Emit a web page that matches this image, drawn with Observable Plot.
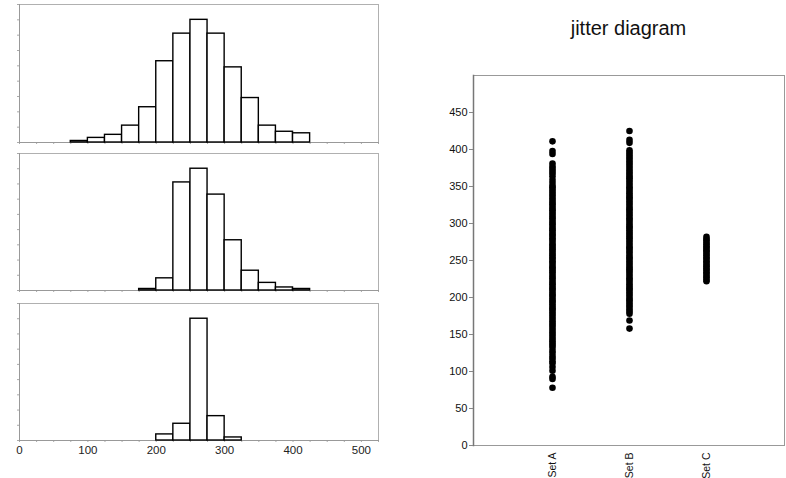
<!DOCTYPE html>
<html><head><meta charset="utf-8">
<script src="https://cdn.jsdelivr.net/npm/d3@7"></script>
<script src="https://cdn.jsdelivr.net/npm/@observablehq/plot@0.6"></script>
<style>
body{margin:0;background:#fff;width:786px;height:478px;position:relative;overflow:hidden;font-family:"Liberation Sans",Arial,sans-serif}
.p{position:absolute}
#title{position:absolute;z-index:5;left:473px;width:311px;top:16px;text-align:center;font-size:20px;line-height:24px;color:#111}
</style></head><body>
<div id="h1" class="p" style="left:0;top:0"></div>
<div id="h2" class="p" style="left:0;top:149px"></div>
<div id="h3" class="p" style="left:0;top:299px"></div>
<div id="jit" class="p" style="left:430px;top:0"></div>
<div id="title">jitter diagram</div>
<script>
// Histogram bins (lower edges), width 25
const binStarts = [75, 100, 125, 150, 175, 200, 225, 250, 275, 300, 325, 350, 375, 400];
const binWidth = 25;
const histTop = [1, 3, 5, 11, 23, 53, 71, 80, 71, 49, 29, 11, 7, 6];
const histMid = [0, 0, 0, 0, 1, 8, 71, 80, 63, 33, 13, 5, 2, 1];
const histBot = [0, 0, 0, 0, 0, 4, 11, 80, 16, 2, 0, 0, 0, 0];
const histYTicks = [0, 10, 20, 30, 40, 50, 60, 70, 80, 90];
const histXMinor = [0, 25, 50, 75, 100, 125, 150, 175, 200, 225, 250, 275, 300, 325, 350, 375, 400, 425, 450, 475, 500, 525];
const histXLabels = [0, 100, 200, 300, 400, 500];

// Jitter diagram data
const setNames = ["Set A", "Set B", "Set C"];
const setA = [411, 398, 394, 381, 377, 374, 371, 368, 364, 359, 355, 351, 349, 346, 343, 340, 337, 334, 331, 328, 326, 323, 320, 318, 315, 312, 309, 307, 304, 301, 299, 296, 293, 291, 288, 285, 283, 280, 278, 275, 272, 270, 267, 265, 262, 259, 257, 254, 252, 249, 247, 244, 241, 239, 236, 234, 231, 228, 226, 223, 220, 218, 215, 212, 210, 207, 204, 202, 199, 196, 194, 191, 188, 185, 183, 180, 177, 174, 171, 168, 165, 162, 159, 156, 153, 150, 147, 144, 141, 138, 135, 132, 128, 125, 121, 118, 114, 111, 106, 101, 93, 90, 78];
const setB = [425, 413, 409, 399, 396, 393, 390, 387, 384, 381, 378, 375, 372, 369, 366, 363, 361, 358, 355, 352, 349, 347, 344, 341, 338, 335, 333, 330, 327, 324, 321, 319, 316, 313, 310, 307, 305, 302, 299, 296, 294, 291, 288, 285, 282, 280, 277, 274, 271, 268, 266, 263, 260, 257, 254, 252, 249, 246, 243, 240, 238, 235, 232, 229, 226, 224, 221, 218, 215, 212, 210, 207, 204, 201, 198, 196, 193, 190, 187, 184, 181, 178, 169, 158];
const setC = [282, 279, 277, 274, 272, 269, 267, 264, 262, 259, 257, 254, 252, 249, 247, 244, 242, 239, 237, 234, 232, 229, 227, 224, 222];
const jitYTicks = [0, 50, 100, 150, 200, 250, 300, 350, 400, 450];

const font = {fontFamily: "'Liberation Sans', Arial, sans-serif", fontSize: "11px", background: "white", color: "#111"};

function hist(vals, height, mb, labels) {
  const data = binStarts.map((b, i) => ({x1: b, x2: b + binWidth, y: vals[i]})).filter(d => d.y > 0);
  return Plot.plot({
    width: 390, height, marginLeft: 19, marginRight: 12, marginTop: 4, marginBottom: mb,
    style: {...font, fontSize: "11.5px"},
    x: {domain: [0, 525], label: null},
    y: {domain: [0, 90], label: null},
    marks: [
      Plot.frame({stroke: "#b0b0b0"}),
      Plot.axisY({ticks: histYTicks, tickSize: 2, tickFormat: () => "", color: "#aaa"}),
      Plot.axisX({ticks: histXMinor, tickSize: 2, tickFormat: () => "", color: "#aaa"}),
      labels ? Plot.axisX({ticks: histXLabels, tickSize: 0, tickPadding: 5, fill: "#222", color: "#222"}) : null,
      Plot.frame({anchor: "left", stroke: "#999"}),
      Plot.frame({anchor: "bottom", stroke: "#999"}),
      Plot.rect(data, {x1: "x1", x2: "x2", y1: 0, y2: "y", fill: "white", stroke: "black", strokeWidth: 1.4})
    ]
  });
}

document.getElementById("h1").append(hist(histTop, 150, 8, false));
document.getElementById("h2").append(hist(histMid, 149, 8, false));
document.getElementById("h3").append(hist(histBot, 162, 21, true));

const points = [
  ...setA.map(v => ({set: setNames[0], value: v})),
  ...setB.map(v => ({set: setNames[1], value: v})),
  ...setC.map(v => ({set: setNames[2], value: v}))
];

document.getElementById("jit").append(Plot.plot({
  width: 356, height: 478, marginLeft: 43, marginRight: 2, marginTop: 75, marginBottom: 33,
  style: font,
  x: {type: "point", domain: setNames, padding: 1, label: null},
  y: {domain: [0, 500], label: null},
  marks: [
    Plot.frame({stroke: "#999"}),
    Plot.frame({anchor: "left", stroke: "#777", strokeWidth: 1.5}),
    Plot.axisY({ticks: jitYTicks, tickSize: 4, tickFormat: () => "", color: "#888"}),
    Plot.axisY({ticks: jitYTicks, tickSize: 0, tickPadding: 6, color: "#111"}),
    Plot.axisX({tickSize: 0, tickRotate: -90, tickPadding: 7, color: "#111", fontSize: "10.5px"}),
    Plot.dot(points, {x: "set", y: "value", r: 3.3, fill: "black", stroke: "none"})
  ]
}));
</script>
</body></html>
